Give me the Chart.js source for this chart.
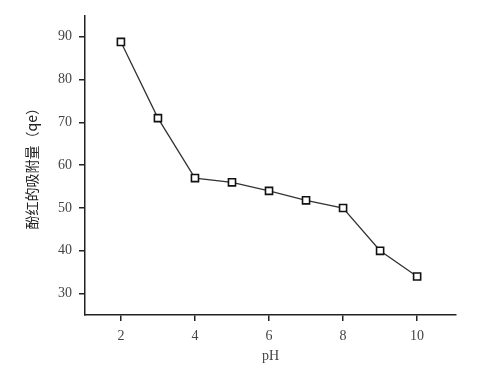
<!DOCTYPE html>
<html>
<head>
<meta charset="utf-8">
<script src="https://cdn.jsdelivr.net/npm/chart.js@4/dist/chart.umd.min.js"></script>
<style>
  html, body { margin: 0; padding: 0; background: #fff; }
  #wrap { width: 500px; height: 374px; }
</style>
</head>
<body>
<div id="wrap"><canvas id="c" width="500" height="374"></canvas></div>
<script>
const phValues = [2, 3, 4, 5, 6, 7, 8, 9, 10];
const qeValues = [88.8, 71, 57, 56, 54, 51.8, 50, 40, 34];
const xTicks = [2, 4, 6, 8, 10];
const yTicks = [30, 40, 50, 60, 70, 80, 90];

const axisColor = '#222';
const tickFont = { family: '"Liberation Serif", "DejaVu Serif", serif', size: 14 };

const points = phValues.map((x, i) => ({ x, y: qeValues[i] }));

new Chart(document.getElementById('c'), {
  type: 'line',
  data: {
    datasets: [{
      data: points,
      borderColor: '#333',
      borderWidth: 1.3,
      pointStyle: 'rect',
      pointRadius: 5,
      pointBorderWidth: 1.6,
      pointBorderColor: '#111',
      pointBackgroundColor: '#fff',
      tension: 0,
    }]
  },
  options: {
    responsive: false,
    animation: false,
    devicePixelRatio: 1,
    layout: { padding: { left: 0, right: 44, top: 14, bottom: 0 } },
    plugins: { legend: { display: false }, tooltip: { enabled: false } },
    scales: {
      x: {
        type: 'linear',
        min: 1.03,
        max: 11.05,
        afterBuildTicks: (s) => { s.ticks = xTicks.map(v => ({ value: v })); },
        afterFit: (s) => { s.height = 59; },
        grid: { drawOnChartArea: false, drawTicks: true, tickLength: 6, color: axisColor, lineWidth: 1.5 },
        border: { display: true, color: axisColor, width: 1.5 },
        ticks: { font: tickFont, color: '#444', padding: 7, maxRotation: 0 },
        title: {
          display: true, text: 'pH', color: '#444',
          font: tickFont, padding: { top: 0, bottom: 9 }
        }
      },
      y: {
        min: 25,
        max: 95,
        afterBuildTicks: (s) => { s.ticks = yTicks.map(v => ({ value: v })); },
        afterFit: (s) => { s.width = 85; },
        grid: { drawOnChartArea: false, drawTicks: true, tickLength: 6, color: axisColor, lineWidth: 1.5 },
        border: { display: true, color: axisColor, width: 1.5 },
        ticks: { font: tickFont, color: '#444', padding: 7 },
        title: {
          display: true, text: '酚红的吸附量（qe）', color: '#222',
          font: { family: '"Noto Sans CJK SC", sans-serif', size: 14 },
          padding: { top: 23, bottom: 0 }
        }
      }
    }
  }
});
</script>
</body>
</html>
